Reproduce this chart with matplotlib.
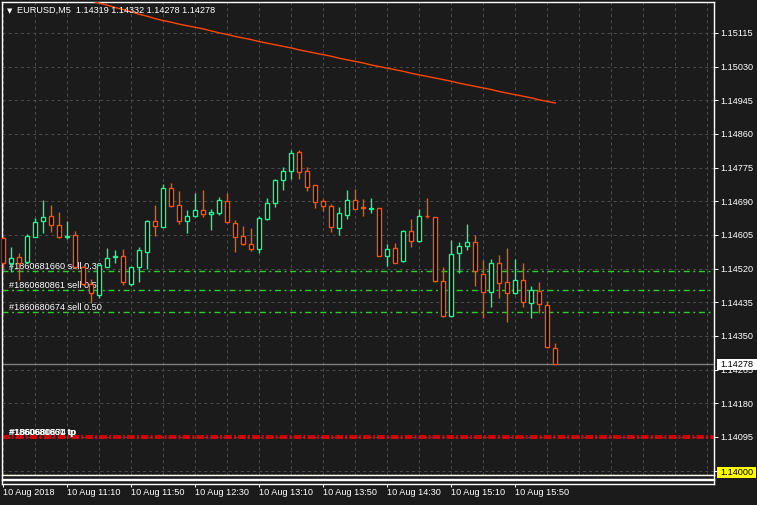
import matplotlib
matplotlib.use("Agg")
import matplotlib.pyplot as plt
from matplotlib.patches import Rectangle

plt.rcParams["font.family"] = ["Liberation Sans", "DejaVu Sans"]
plt.rcParams["lines.scale_dashes"] = False

# EURUSD M5, one candle per 5 minutes starting 10 Aug 2018 10:30
opens = [1.14597, 1.14534, 1.14549, 1.14537, 1.14599, 1.14640, 1.14653, 1.14629, 1.14600, 1.14604,
         1.14524, 1.14481, 1.14453, 1.14525, 1.14549, 1.14551, 1.14480, 1.14523, 1.14563, 1.14640,
         1.14626, 1.14723, 1.14680, 1.14641, 1.14654, 1.14667, 1.14657, 1.14661, 1.14690, 1.14634,
         1.14602, 1.14581, 1.14569, 1.14646, 1.14685, 1.14743, 1.14766, 1.14814, 1.14766, 1.14730,
         1.14690, 1.14677, 1.14623, 1.14656, 1.14693, 1.14675, 1.14670, 1.14672, 1.14553, 1.14571,
         1.14538, 1.14614, 1.14589, 1.14654, 1.14650, 1.14488, 1.14401, 1.14559, 1.14578, 1.14587,
         1.14506, 1.14460, 1.14533, 1.14486, 1.14458, 1.14491, 1.14432, 1.14463, 1.14427, 1.14319]
highs = [1.14602, 1.14574, 1.14560, 1.14607, 1.14647, 1.14693, 1.14681, 1.14662, 1.14640, 1.14614,
         1.14527, 1.14495, 1.14529, 1.14571, 1.14567, 1.14569, 1.14524, 1.14574, 1.14642, 1.14681,
         1.14734, 1.14737, 1.14716, 1.14668, 1.14712, 1.14719, 1.14671, 1.14700, 1.14710, 1.14643,
         1.14628, 1.14622, 1.14653, 1.14698, 1.14746, 1.14776, 1.14820, 1.14820, 1.14776, 1.14731,
         1.14695, 1.14682, 1.14675, 1.14719, 1.14721, 1.14695, 1.14698, 1.14673, 1.14582, 1.14584,
         1.14618, 1.14645, 1.14671, 1.14698, 1.14651, 1.14523, 1.14592, 1.14587, 1.14633, 1.14604,
         1.14542, 1.14544, 1.14554, 1.14571, 1.14544, 1.14534, 1.14475, 1.14486, 1.14438, 1.14332]
lows = [1.14517, 1.14512, 1.14491, 1.14534, 1.14599, 1.14609, 1.14612, 1.14598, 1.14595, 1.14522,
        1.14479, 1.14432, 1.14447, 1.14524, 1.14535, 1.14479, 1.14477, 1.14487, 1.14519, 1.14602,
        1.14625, 1.14676, 1.14633, 1.14611, 1.14651, 1.14651, 1.14618, 1.14655, 1.14635, 1.14563,
        1.14580, 1.14565, 1.14560, 1.14643, 1.14676, 1.14719, 1.14746, 1.14746, 1.14717, 1.14674,
        1.14666, 1.14613, 1.14606, 1.14646, 1.14670, 1.14654, 1.14661, 1.14552, 1.14527, 1.14533,
        1.14537, 1.14575, 1.14588, 1.14647, 1.14486, 1.14398, 1.14398, 1.14510, 1.14567, 1.14477,
        1.14396, 1.14424, 1.14447, 1.14386, 1.14457, 1.14424, 1.14396, 1.14409, 1.14320, 1.14278]
closes = [1.14534, 1.14548, 1.14535, 1.14602, 1.14637, 1.14650, 1.14629, 1.14599, 1.14602, 1.14525,
          1.14482, 1.14458, 1.14528, 1.14546, 1.14551, 1.14485, 1.14523, 1.14566, 1.14640, 1.14628,
          1.14723, 1.14679, 1.14641, 1.14652, 1.14667, 1.14657, 1.14662, 1.14693, 1.14637, 1.14601,
          1.14581, 1.14569, 1.14647, 1.14685, 1.14743, 1.14766, 1.14811, 1.14765, 1.14727, 1.14689,
          1.14677, 1.14626, 1.14660, 1.14693, 1.14671, 1.14673, 1.14672, 1.14553, 1.14569, 1.14535,
          1.14614, 1.14589, 1.14652, 1.14652, 1.14488, 1.14401, 1.14556, 1.14576, 1.14587, 1.14513,
          1.14462, 1.14533, 1.14483, 1.14458, 1.14491, 1.14435, 1.14465, 1.14430, 1.14321, 1.14278]

# moving average, first value belongs to candle 11
ma_start = 11
ma_values = [1.15196, 1.15190, 1.15185, 1.15179, 1.15174, 1.15168, 1.15162, 1.15157, 1.15151, 1.15146,
             1.15142, 1.15137, 1.15133, 1.15129, 1.15125, 1.15120, 1.15115, 1.15111, 1.15106, 1.15102,
             1.15098, 1.15093, 1.15089, 1.15085, 1.15081, 1.15077, 1.15072, 1.15068, 1.15064, 1.15060,
             1.15056, 1.15051, 1.15047, 1.15043, 1.15039, 1.15034, 1.15030, 1.15026, 1.15022, 1.15018,
             1.15013, 1.15009, 1.15005, 1.15001, 1.14997, 1.14993, 1.14988, 1.14984, 1.14980, 1.14976,
             1.14972, 1.14967, 1.14963, 1.14959, 1.14955, 1.14951, 1.14946, 1.14942, 1.14938]

time_ticks = [0, 8, 16, 24, 32, 40, 48, 56, 64]
time_labels = ["10 Aug 2018", "10 Aug 11:10", "10 Aug 11:50", "10 Aug 12:30", "10 Aug 13:10",
               "10 Aug 13:50", "10 Aug 14:30", "10 Aug 15:10", "10 Aug 15:50"]
price_ticks = [1.15115, 1.15030, 1.14945, 1.14860, 1.14775, 1.14690, 1.14605,
               1.14520, 1.14435, 1.14350, 1.14265, 1.14180, 1.14095, 1.14010]

sell_labels = ["#1860681660 sell 0.30", "#1860680861 sell 0.50", "#1860680674 sell 0.50"]
sell_prices = [1.14514, 1.14466, 1.14411]
tp_labels = ["#1860681660 tp", "#1860680861 tp", "#1860680674 tp"]
tp_prices = [1.14098, 1.14092]
last_price = 1.14278
alert_price = 1.14000

BG = "#1b1b1b"
BULL = "#1ef595"
BEAR = "#ff5014"
FS = 6.6
W, H = 757, 505
Y_TOP, Y_BOT = 1.15193, 1.14000


def box(x0, y0, x1, y1):
    return [x0 / W, 1 - y1 / H, (x1 - x0) / W, (y1 - y0) / H]


def price_px(p):
    return 2 + (Y_TOP - p) / (Y_TOP - Y_BOT) * 472.6


fig = plt.figure(figsize=(W / 100, H / 100), dpi=100, facecolor=BG)
ax = fig.add_axes(box(2, 2, 714, 474.6), facecolor=BG)
ax.set_xlim(-0.16, 88.84)
ax.set_ylim(Y_BOT, Y_TOP)

for side in ["top", "left", "right"]:
    ax.spines[side].set_color("white")
    ax.spines[side].set_linewidth(1)
ax.spines["bottom"].set_visible(False)

ax.set_xticks(range(0, 89, 4))
ax.tick_params(axis="x", length=0, labelbottom=False)
ax.yaxis.tick_right()
ax.set_yticks(price_ticks)
ax.set_yticklabels([f"{p:.5f}" for p in price_ticks])
ax.tick_params(axis="y", colors="white", labelcolor="white", length=2.9, width=0.72,
               pad=1.4, labelsize=FS, direction="out")
ax.set_axisbelow(True)
ax.grid(True, color="#4a4a4a", lw=0.72, linestyle=(0, (2.2, 2.2)))

# order labels (drawn under the candles)
for name, p in zip(sell_labels, sell_prices):
    ax.annotate(name, (0.71, p), xytext=(0, 1.5), textcoords="offset pixels",
                color="white", fontsize=FS, va="baseline", ha="left", zorder=2)
for i, name in enumerate(tp_labels):
    ax.annotate(name, (0.71, tp_prices[0]), xytext=(i * 0.5, 0.5), textcoords="offset pixels",
                color="white", fontsize=FS, va="baseline", ha="left", zorder=2)

for p in sell_prices:
    ax.axhline(p, color="#2ecc2e", lw=1, linestyle=(0, (4.3, 2.6, 1.4, 2.6)), zorder=1.5)
for p in tp_prices:
    ax.axhline(p, color="#ff0000", lw=1.1, linestyle=(0, (5.5, 1.5, 1.5, 1.5)), zorder=1.5)
ax.axhline(last_price, color="#808080", lw=1, zorder=1.6)
ax.axhline(alert_price, color="#ffff00", lw=1, linestyle=(0, (1.4, 1.4)), clip_on=False, zorder=1.6)

# candles: hollow black bodies with coloured outline
for k, (o, h, l, c) in enumerate(zip(opens, highs, lows, closes)):
    col = BULL if c >= o else BEAR
    ax.plot([k, k], [l, h], color=col, lw=1.0, zorder=4, snap=True, solid_capstyle="butt")
    ax.add_patch(Rectangle((k - 0.26, min(o, c)), 0.52, max(abs(c - o), 0.00001),
                           facecolor="black", edgecolor=col, lw=1.0, zorder=5, snap=True))

ax.plot(range(ma_start, ma_start + len(ma_values)), ma_values, color="#ff4500", lw=1, zorder=3)

# collapsed indicator windows and time axis
sub1 = fig.add_axes(box(2, 475, 714, 479.3), facecolor=BG)
sub2 = fig.add_axes(box(2, 480.3, 714, 484.3), facecolor=BG)
for s in (sub1, sub2):
    s.set_xlim(-0.16, 88.84)
    s.set_yticks([])
    for sp in s.spines.values():
        sp.set_color("white")
        sp.set_linewidth(1)
sub1.set_xticks([])
sub2.set_xticks(time_ticks)
sub2.set_xticklabels(time_labels)
sub2.tick_params(axis="x", colors="white", labelcolor="white", length=2.5, width=0.72,
                 pad=0.3, labelsize=FS, direction="out")
for lbl in sub2.get_xticklabels():
    lbl.set_ha("left")

# header
fig.text(6.5 / W, 1 - 11 / H, "\u25bc", color="white", fontsize=5, family="DejaVu Sans",
         va="center", ha="left")
fig.text(17 / W, 1 - 10.7 / H,
         f"EURUSD,M5  {opens[-1]:.5f} {highs[-1]:.5f} {lows[-1]:.5f} {closes[-1]:.5f}",
         color="white", fontsize=FS, va="center", ha="left")

# price boxes on the right scale
yc = price_px(last_price)
fig.add_artist(Rectangle((716.5 / W, 1 - (yc + 5.2) / H), 40 / W, 10.6 / H,
                         transform=fig.transFigure, facecolor="white", edgecolor="none", zorder=5))
fig.text(720 / W, 1 - yc / H, f"{last_price:.5f}", color="black", fontsize=FS,
         va="center", ha="left", zorder=6)
yc = 472.5
fig.add_artist(Rectangle((716.5 / W, 1 - (yc + 5.5) / H), 39.5 / W, 11 / H,
                         transform=fig.transFigure, facecolor="#ffff00", edgecolor="none", zorder=5))
fig.text(720 / W, 1 - yc / H, f"{alert_price:.5f}", color="black", fontsize=FS,
         va="center", ha="left", zorder=6)

fig.savefig("out.png", dpi=100, facecolor=BG)
